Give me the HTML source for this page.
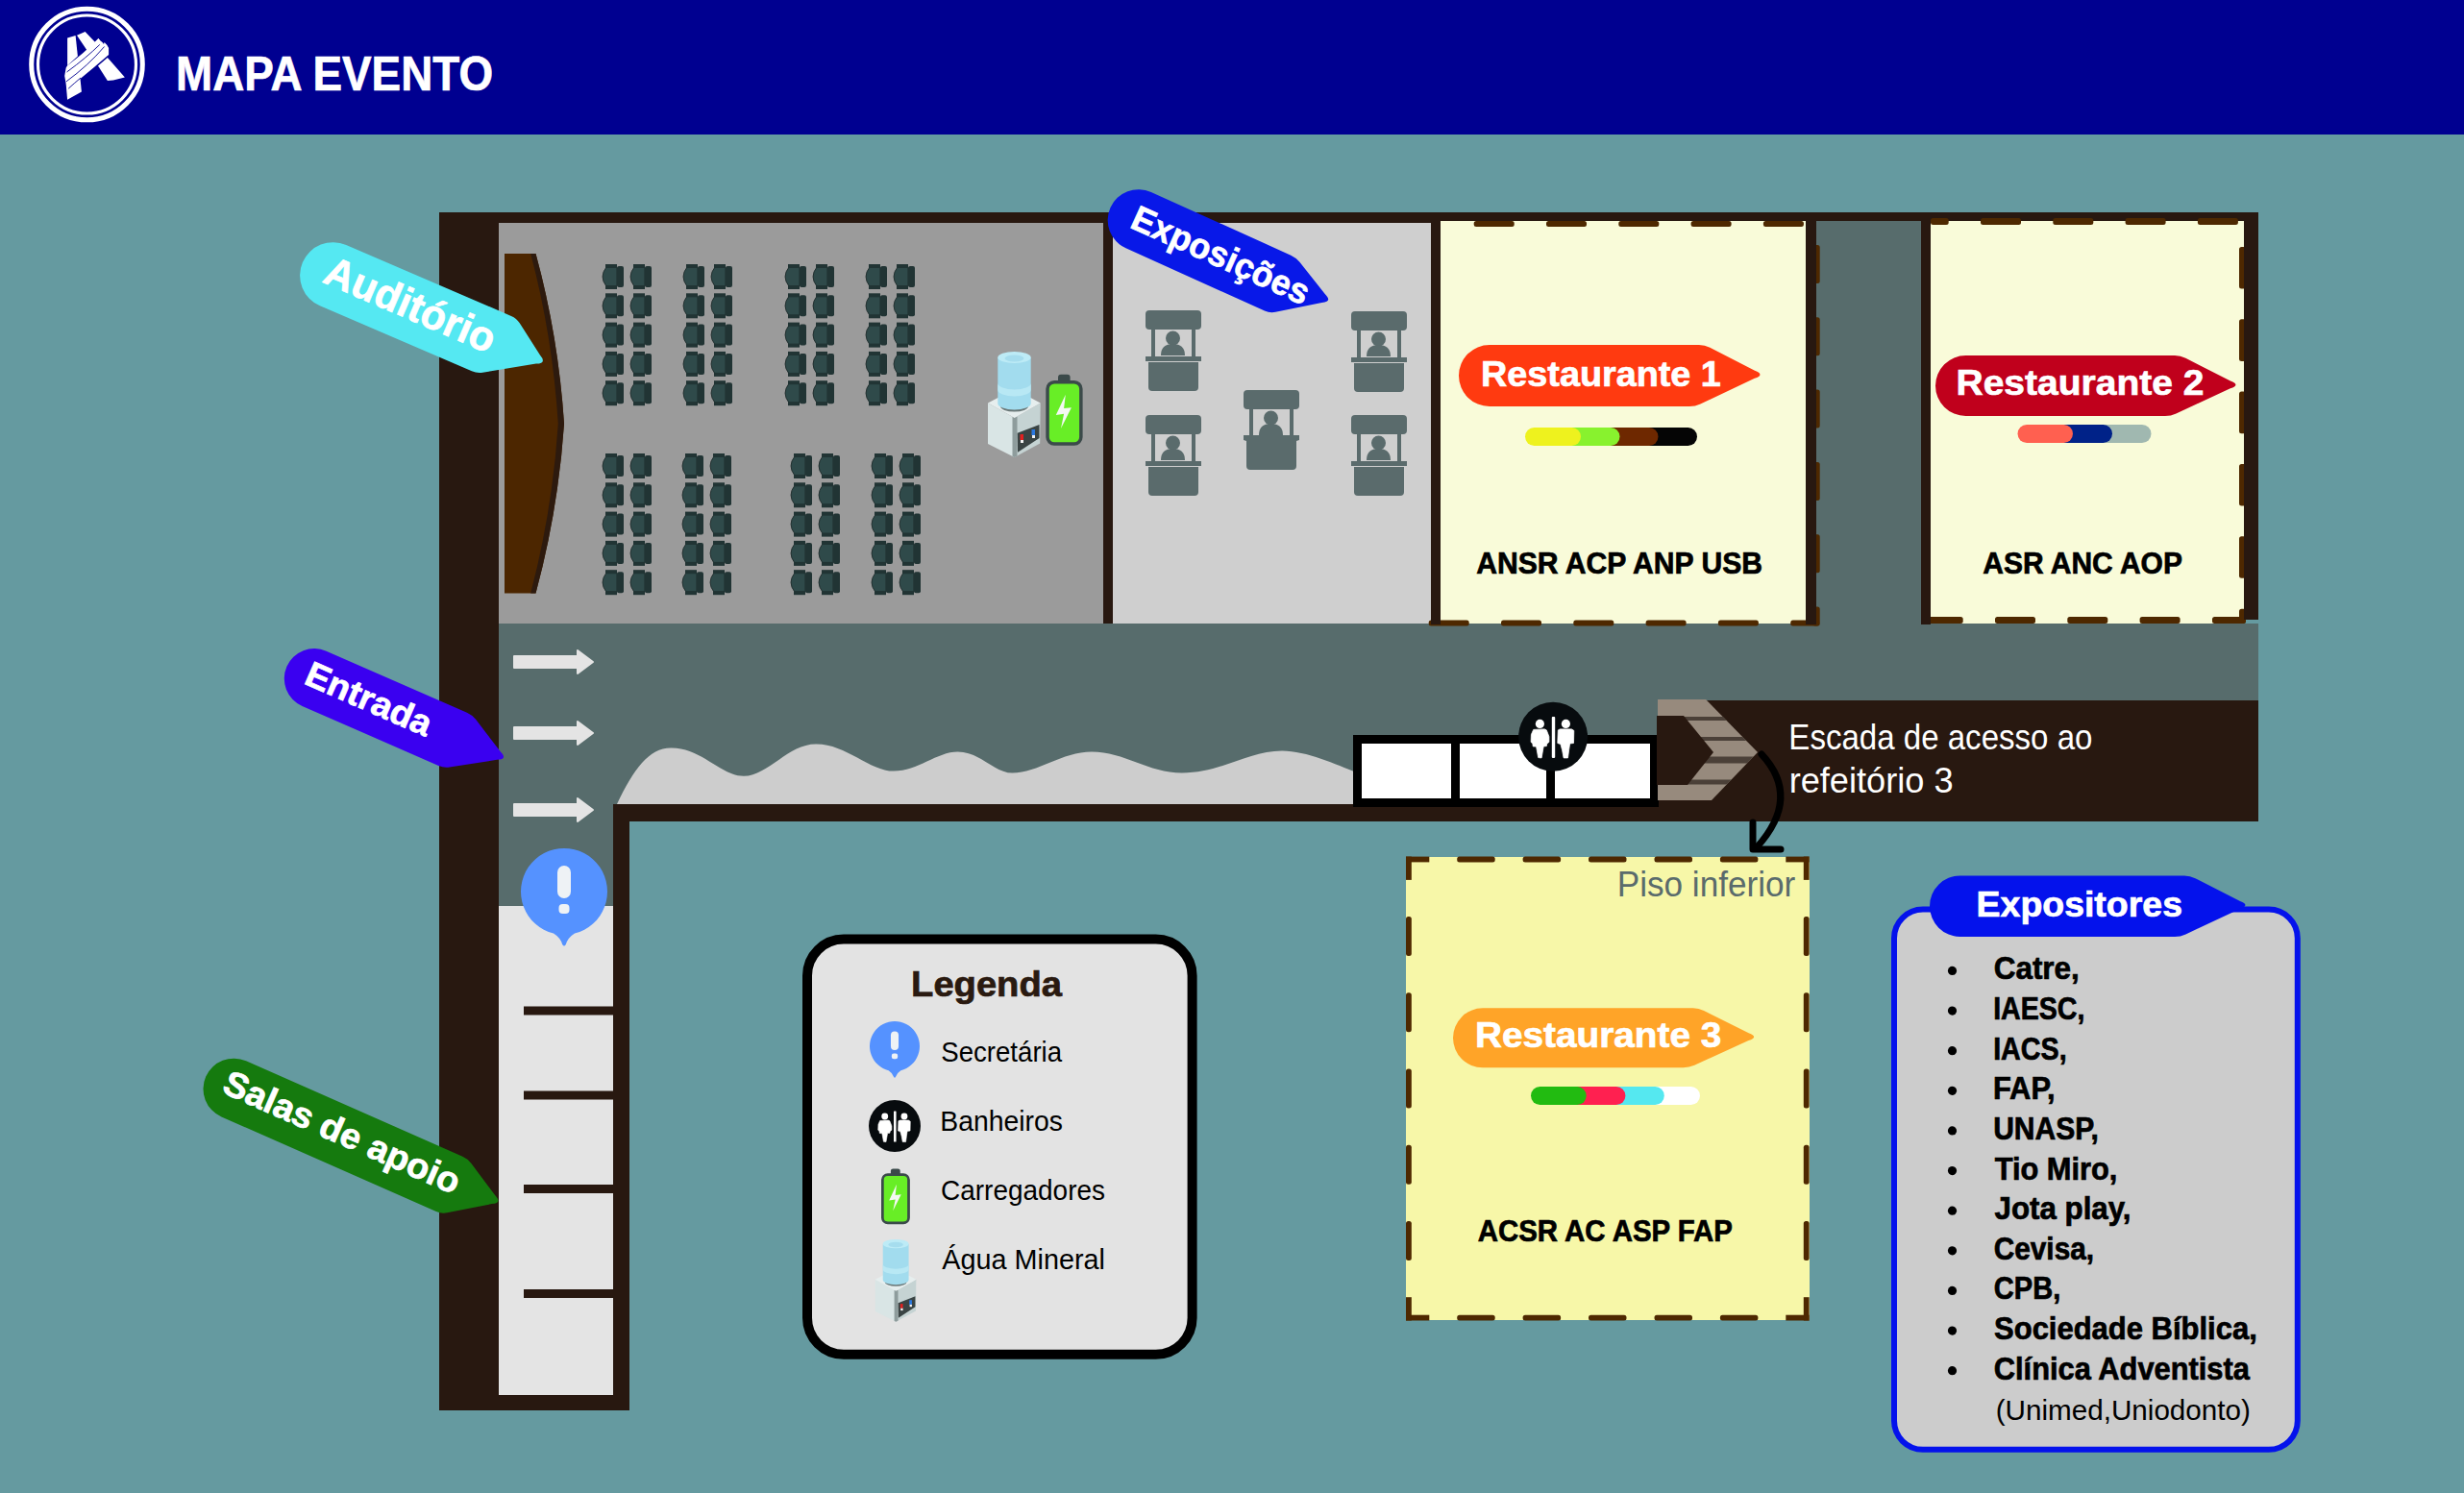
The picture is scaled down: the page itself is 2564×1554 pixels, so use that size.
<!DOCTYPE html>
<html><head><meta charset="utf-8"><title>Mapa Evento</title>
<style>html,body{margin:0;padding:0;background:#659AA0;} svg{display:block;}</style>
</head><body>
<svg width="2564" height="1554" viewBox="0 0 2564 1554">
<defs><clipPath id="stairclip"><path d="M1725,728 L1775,728 L1829,783 L1781,833 L1725,833 Z"/></clipPath></defs>
<rect x="0" y="0" width="2564" height="1554" fill="#659AA0" />
<rect x="0" y="0" width="2564" height="140" fill="#000090" />
<rect x="457" y="221" width="1893" height="11" fill="#281810" />
<rect x="457" y="221" width="62" height="1247" fill="#281810" />
<rect x="457" y="1452" width="198" height="16" fill="#281810" />
<rect x="638" y="837" width="17" height="631" fill="#281810" />
<rect x="2335" y="221" width="15" height="424" fill="#281810" />
<rect x="519" y="232" width="629" height="418" fill="#9B9B9B" />
<rect x="1148" y="221" width="10" height="429" fill="#281810" />
<rect x="1158" y="232" width="331" height="418" fill="#CFCFCF" />
<rect x="1489" y="221" width="10" height="429" fill="#281810" />
<rect x="1499" y="230" width="380" height="419" fill="#F9FBD9" />
<rect x="1879" y="221" width="11" height="429" fill="#281810" />
<rect x="1890" y="230" width="109" height="420" fill="#576C6C" />
<rect x="1999" y="221" width="10" height="429" fill="#281810" />
<rect x="2009" y="230" width="326" height="419" fill="#F9FBD9" />
<rect x="519" y="649" width="1831" height="188" fill="#576C6C" />
<rect x="519" y="837" width="119" height="106" fill="#576C6C" />
<rect x="519" y="943" width="119" height="509" fill="#E4E4E4" />
<rect x="638" y="837" width="1090" height="18" fill="#281810" />
<rect x="1725" y="729" width="625" height="126" fill="#281810" />
<rect x="1533.7" y="230" width="42" height="6" rx="2.5" fill="#4E2800"/>
<rect x="1609.0" y="230" width="42" height="6" rx="2.5" fill="#4E2800"/>
<rect x="1684.3" y="230" width="42" height="6" rx="2.5" fill="#4E2800"/>
<rect x="1759.6" y="230" width="42" height="6" rx="2.5" fill="#4E2800"/>
<rect x="1834.9" y="230" width="42" height="6" rx="2.5" fill="#4E2800"/>
<rect x="1486.7" y="645.5" width="42" height="6.0" rx="2.5" fill="#4E2800"/>
<rect x="1562.0" y="645.5" width="42" height="6.0" rx="2.5" fill="#4E2800"/>
<rect x="1637.3" y="645.5" width="42" height="6.0" rx="2.5" fill="#4E2800"/>
<rect x="1712.6" y="645.5" width="42" height="6.0" rx="2.5" fill="#4E2800"/>
<rect x="1787.9" y="645.5" width="42" height="6.0" rx="2.5" fill="#4E2800"/>
<rect x="1863.2" y="645.5" width="30" height="6.0" rx="2.5" fill="#4E2800"/>
<rect x="1886" y="255.0" width="7.7000000000000455" height="40" rx="2.5" fill="#4E2800"/>
<rect x="1886" y="330.3" width="7.7000000000000455" height="40" rx="2.5" fill="#4E2800"/>
<rect x="1886" y="405.6" width="7.7000000000000455" height="40" rx="2.5" fill="#4E2800"/>
<rect x="1886" y="480.9" width="7.7000000000000455" height="40" rx="2.5" fill="#4E2800"/>
<rect x="1886" y="556.2" width="7.7000000000000455" height="40" rx="2.5" fill="#4E2800"/>
<rect x="1886" y="631.5" width="7.7000000000000455" height="20" rx="2.5" fill="#4E2800"/>
<rect x="2061.0" y="227" width="42" height="7" rx="2.5" fill="#4E2800"/>
<rect x="2136.3" y="227" width="42" height="7" rx="2.5" fill="#4E2800"/>
<rect x="2211.6" y="227" width="42" height="7" rx="2.5" fill="#4E2800"/>
<rect x="2286.9" y="227" width="42" height="7" rx="2.5" fill="#4E2800"/>
<rect x="2009.0" y="227" width="18.7" height="7" rx="2.5" fill="#4E2800"/>
<rect x="2330" y="257.0" width="7" height="43.6" rx="2.5" fill="#4E2800"/>
<rect x="2330" y="332.3" width="7" height="43.6" rx="2.5" fill="#4E2800"/>
<rect x="2330" y="407.6" width="7" height="43.6" rx="2.5" fill="#4E2800"/>
<rect x="2330" y="482.9" width="7" height="43.6" rx="2.5" fill="#4E2800"/>
<rect x="2330" y="558.2" width="7" height="43.6" rx="2.5" fill="#4E2800"/>
<rect x="2330" y="633.8" width="7" height="15" rx="2.5" fill="#4E2800"/>
<rect x="2000.7" y="642" width="42" height="7" rx="2.5" fill="#4E2800"/>
<rect x="2076.0" y="642" width="42" height="7" rx="2.5" fill="#4E2800"/>
<rect x="2151.3" y="642" width="42" height="7" rx="2.5" fill="#4E2800"/>
<rect x="2226.6" y="642" width="42" height="7" rx="2.5" fill="#4E2800"/>
<rect x="2302.0" y="642" width="35" height="7" rx="2.5" fill="#4E2800"/>
<rect x="1489" y="221" width="10" height="429" fill="#281810" />
<rect x="1879" y="221" width="11" height="429" fill="#281810" />
<rect x="1999" y="221" width="10" height="429" fill="#281810" />
<rect x="2335" y="221" width="15" height="424" fill="#281810" />
<path d="M525,264 L557.5,264 Q581,350 587,441 Q581,530 557.5,617.6 L525,617.6 Z" fill="#4C2600"/>
<path d="M552.2,264 L557.5,264 Q581,350 587,441 Q581,530 557.5,617.6 L552.2,617.6 Q575,530 580.8,441 Q575,350 552.2,264 Z" fill="#2D1A0E"/>
<path d="M631,278.0 L642,278.0 L642,298.0 L631,298.0 Q627,293.0 627,288.0 Q627,283.0 631,278.0 Z" fill="#2F4A4A" stroke="#1a2626" stroke-width="0.8"/>
<rect x="630" y="275.0" width="12" height="4" fill="#213434" />
<rect x="630" y="297.0" width="12" height="4" fill="#213434" />
<rect x="642" y="277.0" width="7" height="22" rx="2" fill="#213434"/>
<path d="M660,278.0 L671,278.0 L671,298.0 L660,298.0 Q656,293.0 656,288.0 Q656,283.0 660,278.0 Z" fill="#2F4A4A" stroke="#1a2626" stroke-width="0.8"/>
<rect x="659" y="275.0" width="12" height="4" fill="#213434" />
<rect x="659" y="297.0" width="12" height="4" fill="#213434" />
<rect x="671" y="277.0" width="7" height="22" rx="2" fill="#213434"/>
<path d="M631,308.3 L642,308.3 L642,328.3 L631,328.3 Q627,323.3 627,318.3 Q627,313.3 631,308.3 Z" fill="#2F4A4A" stroke="#1a2626" stroke-width="0.8"/>
<rect x="630" y="305.3" width="12" height="4" fill="#213434" />
<rect x="630" y="327.3" width="12" height="4" fill="#213434" />
<rect x="642" y="307.3" width="7" height="22" rx="2" fill="#213434"/>
<path d="M660,308.3 L671,308.3 L671,328.3 L660,328.3 Q656,323.3 656,318.3 Q656,313.3 660,308.3 Z" fill="#2F4A4A" stroke="#1a2626" stroke-width="0.8"/>
<rect x="659" y="305.3" width="12" height="4" fill="#213434" />
<rect x="659" y="327.3" width="12" height="4" fill="#213434" />
<rect x="671" y="307.3" width="7" height="22" rx="2" fill="#213434"/>
<path d="M631,338.6 L642,338.6 L642,358.6 L631,358.6 Q627,353.6 627,348.6 Q627,343.6 631,338.6 Z" fill="#2F4A4A" stroke="#1a2626" stroke-width="0.8"/>
<rect x="630" y="335.6" width="12" height="4" fill="#213434" />
<rect x="630" y="357.6" width="12" height="4" fill="#213434" />
<rect x="642" y="337.6" width="7" height="22" rx="2" fill="#213434"/>
<path d="M660,338.6 L671,338.6 L671,358.6 L660,358.6 Q656,353.6 656,348.6 Q656,343.6 660,338.6 Z" fill="#2F4A4A" stroke="#1a2626" stroke-width="0.8"/>
<rect x="659" y="335.6" width="12" height="4" fill="#213434" />
<rect x="659" y="357.6" width="12" height="4" fill="#213434" />
<rect x="671" y="337.6" width="7" height="22" rx="2" fill="#213434"/>
<path d="M631,368.9 L642,368.9 L642,388.9 L631,388.9 Q627,383.9 627,378.9 Q627,373.9 631,368.9 Z" fill="#2F4A4A" stroke="#1a2626" stroke-width="0.8"/>
<rect x="630" y="365.9" width="12" height="4" fill="#213434" />
<rect x="630" y="387.9" width="12" height="4" fill="#213434" />
<rect x="642" y="367.9" width="7" height="22" rx="2" fill="#213434"/>
<path d="M660,368.9 L671,368.9 L671,388.9 L660,388.9 Q656,383.9 656,378.9 Q656,373.9 660,368.9 Z" fill="#2F4A4A" stroke="#1a2626" stroke-width="0.8"/>
<rect x="659" y="365.9" width="12" height="4" fill="#213434" />
<rect x="659" y="387.9" width="12" height="4" fill="#213434" />
<rect x="671" y="367.9" width="7" height="22" rx="2" fill="#213434"/>
<path d="M631,399.2 L642,399.2 L642,419.2 L631,419.2 Q627,414.2 627,409.2 Q627,404.2 631,399.2 Z" fill="#2F4A4A" stroke="#1a2626" stroke-width="0.8"/>
<rect x="630" y="396.2" width="12" height="4" fill="#213434" />
<rect x="630" y="418.2" width="12" height="4" fill="#213434" />
<rect x="642" y="398.2" width="7" height="22" rx="2" fill="#213434"/>
<path d="M660,399.2 L671,399.2 L671,419.2 L660,419.2 Q656,414.2 656,409.2 Q656,404.2 660,399.2 Z" fill="#2F4A4A" stroke="#1a2626" stroke-width="0.8"/>
<rect x="659" y="396.2" width="12" height="4" fill="#213434" />
<rect x="659" y="418.2" width="12" height="4" fill="#213434" />
<rect x="671" y="398.2" width="7" height="22" rx="2" fill="#213434"/>
<path d="M715,278.0 L726,278.0 L726,298.0 L715,298.0 Q711,293.0 711,288.0 Q711,283.0 715,278.0 Z" fill="#2F4A4A" stroke="#1a2626" stroke-width="0.8"/>
<rect x="714" y="275.0" width="12" height="4" fill="#213434" />
<rect x="714" y="297.0" width="12" height="4" fill="#213434" />
<rect x="726" y="277.0" width="7" height="22" rx="2" fill="#213434"/>
<path d="M744,278.0 L755,278.0 L755,298.0 L744,298.0 Q740,293.0 740,288.0 Q740,283.0 744,278.0 Z" fill="#2F4A4A" stroke="#1a2626" stroke-width="0.8"/>
<rect x="743" y="275.0" width="12" height="4" fill="#213434" />
<rect x="743" y="297.0" width="12" height="4" fill="#213434" />
<rect x="755" y="277.0" width="7" height="22" rx="2" fill="#213434"/>
<path d="M715,308.3 L726,308.3 L726,328.3 L715,328.3 Q711,323.3 711,318.3 Q711,313.3 715,308.3 Z" fill="#2F4A4A" stroke="#1a2626" stroke-width="0.8"/>
<rect x="714" y="305.3" width="12" height="4" fill="#213434" />
<rect x="714" y="327.3" width="12" height="4" fill="#213434" />
<rect x="726" y="307.3" width="7" height="22" rx="2" fill="#213434"/>
<path d="M744,308.3 L755,308.3 L755,328.3 L744,328.3 Q740,323.3 740,318.3 Q740,313.3 744,308.3 Z" fill="#2F4A4A" stroke="#1a2626" stroke-width="0.8"/>
<rect x="743" y="305.3" width="12" height="4" fill="#213434" />
<rect x="743" y="327.3" width="12" height="4" fill="#213434" />
<rect x="755" y="307.3" width="7" height="22" rx="2" fill="#213434"/>
<path d="M715,338.6 L726,338.6 L726,358.6 L715,358.6 Q711,353.6 711,348.6 Q711,343.6 715,338.6 Z" fill="#2F4A4A" stroke="#1a2626" stroke-width="0.8"/>
<rect x="714" y="335.6" width="12" height="4" fill="#213434" />
<rect x="714" y="357.6" width="12" height="4" fill="#213434" />
<rect x="726" y="337.6" width="7" height="22" rx="2" fill="#213434"/>
<path d="M744,338.6 L755,338.6 L755,358.6 L744,358.6 Q740,353.6 740,348.6 Q740,343.6 744,338.6 Z" fill="#2F4A4A" stroke="#1a2626" stroke-width="0.8"/>
<rect x="743" y="335.6" width="12" height="4" fill="#213434" />
<rect x="743" y="357.6" width="12" height="4" fill="#213434" />
<rect x="755" y="337.6" width="7" height="22" rx="2" fill="#213434"/>
<path d="M715,368.9 L726,368.9 L726,388.9 L715,388.9 Q711,383.9 711,378.9 Q711,373.9 715,368.9 Z" fill="#2F4A4A" stroke="#1a2626" stroke-width="0.8"/>
<rect x="714" y="365.9" width="12" height="4" fill="#213434" />
<rect x="714" y="387.9" width="12" height="4" fill="#213434" />
<rect x="726" y="367.9" width="7" height="22" rx="2" fill="#213434"/>
<path d="M744,368.9 L755,368.9 L755,388.9 L744,388.9 Q740,383.9 740,378.9 Q740,373.9 744,368.9 Z" fill="#2F4A4A" stroke="#1a2626" stroke-width="0.8"/>
<rect x="743" y="365.9" width="12" height="4" fill="#213434" />
<rect x="743" y="387.9" width="12" height="4" fill="#213434" />
<rect x="755" y="367.9" width="7" height="22" rx="2" fill="#213434"/>
<path d="M715,399.2 L726,399.2 L726,419.2 L715,419.2 Q711,414.2 711,409.2 Q711,404.2 715,399.2 Z" fill="#2F4A4A" stroke="#1a2626" stroke-width="0.8"/>
<rect x="714" y="396.2" width="12" height="4" fill="#213434" />
<rect x="714" y="418.2" width="12" height="4" fill="#213434" />
<rect x="726" y="398.2" width="7" height="22" rx="2" fill="#213434"/>
<path d="M744,399.2 L755,399.2 L755,419.2 L744,419.2 Q740,414.2 740,409.2 Q740,404.2 744,399.2 Z" fill="#2F4A4A" stroke="#1a2626" stroke-width="0.8"/>
<rect x="743" y="396.2" width="12" height="4" fill="#213434" />
<rect x="743" y="418.2" width="12" height="4" fill="#213434" />
<rect x="755" y="398.2" width="7" height="22" rx="2" fill="#213434"/>
<path d="M821,278.0 L832,278.0 L832,298.0 L821,298.0 Q817,293.0 817,288.0 Q817,283.0 821,278.0 Z" fill="#2F4A4A" stroke="#1a2626" stroke-width="0.8"/>
<rect x="820" y="275.0" width="12" height="4" fill="#213434" />
<rect x="820" y="297.0" width="12" height="4" fill="#213434" />
<rect x="832" y="277.0" width="7" height="22" rx="2" fill="#213434"/>
<path d="M850,278.0 L861,278.0 L861,298.0 L850,298.0 Q846,293.0 846,288.0 Q846,283.0 850,278.0 Z" fill="#2F4A4A" stroke="#1a2626" stroke-width="0.8"/>
<rect x="849" y="275.0" width="12" height="4" fill="#213434" />
<rect x="849" y="297.0" width="12" height="4" fill="#213434" />
<rect x="861" y="277.0" width="7" height="22" rx="2" fill="#213434"/>
<path d="M821,308.3 L832,308.3 L832,328.3 L821,328.3 Q817,323.3 817,318.3 Q817,313.3 821,308.3 Z" fill="#2F4A4A" stroke="#1a2626" stroke-width="0.8"/>
<rect x="820" y="305.3" width="12" height="4" fill="#213434" />
<rect x="820" y="327.3" width="12" height="4" fill="#213434" />
<rect x="832" y="307.3" width="7" height="22" rx="2" fill="#213434"/>
<path d="M850,308.3 L861,308.3 L861,328.3 L850,328.3 Q846,323.3 846,318.3 Q846,313.3 850,308.3 Z" fill="#2F4A4A" stroke="#1a2626" stroke-width="0.8"/>
<rect x="849" y="305.3" width="12" height="4" fill="#213434" />
<rect x="849" y="327.3" width="12" height="4" fill="#213434" />
<rect x="861" y="307.3" width="7" height="22" rx="2" fill="#213434"/>
<path d="M821,338.6 L832,338.6 L832,358.6 L821,358.6 Q817,353.6 817,348.6 Q817,343.6 821,338.6 Z" fill="#2F4A4A" stroke="#1a2626" stroke-width="0.8"/>
<rect x="820" y="335.6" width="12" height="4" fill="#213434" />
<rect x="820" y="357.6" width="12" height="4" fill="#213434" />
<rect x="832" y="337.6" width="7" height="22" rx="2" fill="#213434"/>
<path d="M850,338.6 L861,338.6 L861,358.6 L850,358.6 Q846,353.6 846,348.6 Q846,343.6 850,338.6 Z" fill="#2F4A4A" stroke="#1a2626" stroke-width="0.8"/>
<rect x="849" y="335.6" width="12" height="4" fill="#213434" />
<rect x="849" y="357.6" width="12" height="4" fill="#213434" />
<rect x="861" y="337.6" width="7" height="22" rx="2" fill="#213434"/>
<path d="M821,368.9 L832,368.9 L832,388.9 L821,388.9 Q817,383.9 817,378.9 Q817,373.9 821,368.9 Z" fill="#2F4A4A" stroke="#1a2626" stroke-width="0.8"/>
<rect x="820" y="365.9" width="12" height="4" fill="#213434" />
<rect x="820" y="387.9" width="12" height="4" fill="#213434" />
<rect x="832" y="367.9" width="7" height="22" rx="2" fill="#213434"/>
<path d="M850,368.9 L861,368.9 L861,388.9 L850,388.9 Q846,383.9 846,378.9 Q846,373.9 850,368.9 Z" fill="#2F4A4A" stroke="#1a2626" stroke-width="0.8"/>
<rect x="849" y="365.9" width="12" height="4" fill="#213434" />
<rect x="849" y="387.9" width="12" height="4" fill="#213434" />
<rect x="861" y="367.9" width="7" height="22" rx="2" fill="#213434"/>
<path d="M821,399.2 L832,399.2 L832,419.2 L821,419.2 Q817,414.2 817,409.2 Q817,404.2 821,399.2 Z" fill="#2F4A4A" stroke="#1a2626" stroke-width="0.8"/>
<rect x="820" y="396.2" width="12" height="4" fill="#213434" />
<rect x="820" y="418.2" width="12" height="4" fill="#213434" />
<rect x="832" y="398.2" width="7" height="22" rx="2" fill="#213434"/>
<path d="M850,399.2 L861,399.2 L861,419.2 L850,419.2 Q846,414.2 846,409.2 Q846,404.2 850,399.2 Z" fill="#2F4A4A" stroke="#1a2626" stroke-width="0.8"/>
<rect x="849" y="396.2" width="12" height="4" fill="#213434" />
<rect x="849" y="418.2" width="12" height="4" fill="#213434" />
<rect x="861" y="398.2" width="7" height="22" rx="2" fill="#213434"/>
<path d="M905,278.0 L916,278.0 L916,298.0 L905,298.0 Q901,293.0 901,288.0 Q901,283.0 905,278.0 Z" fill="#2F4A4A" stroke="#1a2626" stroke-width="0.8"/>
<rect x="904" y="275.0" width="12" height="4" fill="#213434" />
<rect x="904" y="297.0" width="12" height="4" fill="#213434" />
<rect x="916" y="277.0" width="7" height="22" rx="2" fill="#213434"/>
<path d="M934,278.0 L945,278.0 L945,298.0 L934,298.0 Q930,293.0 930,288.0 Q930,283.0 934,278.0 Z" fill="#2F4A4A" stroke="#1a2626" stroke-width="0.8"/>
<rect x="933" y="275.0" width="12" height="4" fill="#213434" />
<rect x="933" y="297.0" width="12" height="4" fill="#213434" />
<rect x="945" y="277.0" width="7" height="22" rx="2" fill="#213434"/>
<path d="M905,308.3 L916,308.3 L916,328.3 L905,328.3 Q901,323.3 901,318.3 Q901,313.3 905,308.3 Z" fill="#2F4A4A" stroke="#1a2626" stroke-width="0.8"/>
<rect x="904" y="305.3" width="12" height="4" fill="#213434" />
<rect x="904" y="327.3" width="12" height="4" fill="#213434" />
<rect x="916" y="307.3" width="7" height="22" rx="2" fill="#213434"/>
<path d="M934,308.3 L945,308.3 L945,328.3 L934,328.3 Q930,323.3 930,318.3 Q930,313.3 934,308.3 Z" fill="#2F4A4A" stroke="#1a2626" stroke-width="0.8"/>
<rect x="933" y="305.3" width="12" height="4" fill="#213434" />
<rect x="933" y="327.3" width="12" height="4" fill="#213434" />
<rect x="945" y="307.3" width="7" height="22" rx="2" fill="#213434"/>
<path d="M905,338.6 L916,338.6 L916,358.6 L905,358.6 Q901,353.6 901,348.6 Q901,343.6 905,338.6 Z" fill="#2F4A4A" stroke="#1a2626" stroke-width="0.8"/>
<rect x="904" y="335.6" width="12" height="4" fill="#213434" />
<rect x="904" y="357.6" width="12" height="4" fill="#213434" />
<rect x="916" y="337.6" width="7" height="22" rx="2" fill="#213434"/>
<path d="M934,338.6 L945,338.6 L945,358.6 L934,358.6 Q930,353.6 930,348.6 Q930,343.6 934,338.6 Z" fill="#2F4A4A" stroke="#1a2626" stroke-width="0.8"/>
<rect x="933" y="335.6" width="12" height="4" fill="#213434" />
<rect x="933" y="357.6" width="12" height="4" fill="#213434" />
<rect x="945" y="337.6" width="7" height="22" rx="2" fill="#213434"/>
<path d="M905,368.9 L916,368.9 L916,388.9 L905,388.9 Q901,383.9 901,378.9 Q901,373.9 905,368.9 Z" fill="#2F4A4A" stroke="#1a2626" stroke-width="0.8"/>
<rect x="904" y="365.9" width="12" height="4" fill="#213434" />
<rect x="904" y="387.9" width="12" height="4" fill="#213434" />
<rect x="916" y="367.9" width="7" height="22" rx="2" fill="#213434"/>
<path d="M934,368.9 L945,368.9 L945,388.9 L934,388.9 Q930,383.9 930,378.9 Q930,373.9 934,368.9 Z" fill="#2F4A4A" stroke="#1a2626" stroke-width="0.8"/>
<rect x="933" y="365.9" width="12" height="4" fill="#213434" />
<rect x="933" y="387.9" width="12" height="4" fill="#213434" />
<rect x="945" y="367.9" width="7" height="22" rx="2" fill="#213434"/>
<path d="M905,399.2 L916,399.2 L916,419.2 L905,419.2 Q901,414.2 901,409.2 Q901,404.2 905,399.2 Z" fill="#2F4A4A" stroke="#1a2626" stroke-width="0.8"/>
<rect x="904" y="396.2" width="12" height="4" fill="#213434" />
<rect x="904" y="418.2" width="12" height="4" fill="#213434" />
<rect x="916" y="398.2" width="7" height="22" rx="2" fill="#213434"/>
<path d="M934,399.2 L945,399.2 L945,419.2 L934,419.2 Q930,414.2 930,409.2 Q930,404.2 934,399.2 Z" fill="#2F4A4A" stroke="#1a2626" stroke-width="0.8"/>
<rect x="933" y="396.2" width="12" height="4" fill="#213434" />
<rect x="933" y="418.2" width="12" height="4" fill="#213434" />
<rect x="945" y="398.2" width="7" height="22" rx="2" fill="#213434"/>
<path d="M631,475.0 L642,475.0 L642,495.0 L631,495.0 Q627,490.0 627,485.0 Q627,480.0 631,475.0 Z" fill="#2F4A4A" stroke="#1a2626" stroke-width="0.8"/>
<rect x="630" y="472.0" width="12" height="4" fill="#213434" />
<rect x="630" y="494.0" width="12" height="4" fill="#213434" />
<rect x="642" y="474.0" width="7" height="22" rx="2" fill="#213434"/>
<path d="M660,475.0 L671,475.0 L671,495.0 L660,495.0 Q656,490.0 656,485.0 Q656,480.0 660,475.0 Z" fill="#2F4A4A" stroke="#1a2626" stroke-width="0.8"/>
<rect x="659" y="472.0" width="12" height="4" fill="#213434" />
<rect x="659" y="494.0" width="12" height="4" fill="#213434" />
<rect x="671" y="474.0" width="7" height="22" rx="2" fill="#213434"/>
<path d="M631,505.3 L642,505.3 L642,525.3 L631,525.3 Q627,520.3 627,515.3 Q627,510.3 631,505.3 Z" fill="#2F4A4A" stroke="#1a2626" stroke-width="0.8"/>
<rect x="630" y="502.3" width="12" height="4" fill="#213434" />
<rect x="630" y="524.3" width="12" height="4" fill="#213434" />
<rect x="642" y="504.3" width="7" height="22" rx="2" fill="#213434"/>
<path d="M660,505.3 L671,505.3 L671,525.3 L660,525.3 Q656,520.3 656,515.3 Q656,510.3 660,505.3 Z" fill="#2F4A4A" stroke="#1a2626" stroke-width="0.8"/>
<rect x="659" y="502.3" width="12" height="4" fill="#213434" />
<rect x="659" y="524.3" width="12" height="4" fill="#213434" />
<rect x="671" y="504.3" width="7" height="22" rx="2" fill="#213434"/>
<path d="M631,535.6 L642,535.6 L642,555.6 L631,555.6 Q627,550.6 627,545.6 Q627,540.6 631,535.6 Z" fill="#2F4A4A" stroke="#1a2626" stroke-width="0.8"/>
<rect x="630" y="532.6" width="12" height="4" fill="#213434" />
<rect x="630" y="554.6" width="12" height="4" fill="#213434" />
<rect x="642" y="534.6" width="7" height="22" rx="2" fill="#213434"/>
<path d="M660,535.6 L671,535.6 L671,555.6 L660,555.6 Q656,550.6 656,545.6 Q656,540.6 660,535.6 Z" fill="#2F4A4A" stroke="#1a2626" stroke-width="0.8"/>
<rect x="659" y="532.6" width="12" height="4" fill="#213434" />
<rect x="659" y="554.6" width="12" height="4" fill="#213434" />
<rect x="671" y="534.6" width="7" height="22" rx="2" fill="#213434"/>
<path d="M631,565.9 L642,565.9 L642,585.9 L631,585.9 Q627,580.9 627,575.9 Q627,570.9 631,565.9 Z" fill="#2F4A4A" stroke="#1a2626" stroke-width="0.8"/>
<rect x="630" y="562.9" width="12" height="4" fill="#213434" />
<rect x="630" y="584.9" width="12" height="4" fill="#213434" />
<rect x="642" y="564.9" width="7" height="22" rx="2" fill="#213434"/>
<path d="M660,565.9 L671,565.9 L671,585.9 L660,585.9 Q656,580.9 656,575.9 Q656,570.9 660,565.9 Z" fill="#2F4A4A" stroke="#1a2626" stroke-width="0.8"/>
<rect x="659" y="562.9" width="12" height="4" fill="#213434" />
<rect x="659" y="584.9" width="12" height="4" fill="#213434" />
<rect x="671" y="564.9" width="7" height="22" rx="2" fill="#213434"/>
<path d="M631,596.2 L642,596.2 L642,616.2 L631,616.2 Q627,611.2 627,606.2 Q627,601.2 631,596.2 Z" fill="#2F4A4A" stroke="#1a2626" stroke-width="0.8"/>
<rect x="630" y="593.2" width="12" height="4" fill="#213434" />
<rect x="630" y="615.2" width="12" height="4" fill="#213434" />
<rect x="642" y="595.2" width="7" height="22" rx="2" fill="#213434"/>
<path d="M660,596.2 L671,596.2 L671,616.2 L660,616.2 Q656,611.2 656,606.2 Q656,601.2 660,596.2 Z" fill="#2F4A4A" stroke="#1a2626" stroke-width="0.8"/>
<rect x="659" y="593.2" width="12" height="4" fill="#213434" />
<rect x="659" y="615.2" width="12" height="4" fill="#213434" />
<rect x="671" y="595.2" width="7" height="22" rx="2" fill="#213434"/>
<path d="M714,475.0 L725,475.0 L725,495.0 L714,495.0 Q710,490.0 710,485.0 Q710,480.0 714,475.0 Z" fill="#2F4A4A" stroke="#1a2626" stroke-width="0.8"/>
<rect x="713" y="472.0" width="12" height="4" fill="#213434" />
<rect x="713" y="494.0" width="12" height="4" fill="#213434" />
<rect x="725" y="474.0" width="7" height="22" rx="2" fill="#213434"/>
<path d="M743,475.0 L754,475.0 L754,495.0 L743,495.0 Q739,490.0 739,485.0 Q739,480.0 743,475.0 Z" fill="#2F4A4A" stroke="#1a2626" stroke-width="0.8"/>
<rect x="742" y="472.0" width="12" height="4" fill="#213434" />
<rect x="742" y="494.0" width="12" height="4" fill="#213434" />
<rect x="754" y="474.0" width="7" height="22" rx="2" fill="#213434"/>
<path d="M714,505.3 L725,505.3 L725,525.3 L714,525.3 Q710,520.3 710,515.3 Q710,510.3 714,505.3 Z" fill="#2F4A4A" stroke="#1a2626" stroke-width="0.8"/>
<rect x="713" y="502.3" width="12" height="4" fill="#213434" />
<rect x="713" y="524.3" width="12" height="4" fill="#213434" />
<rect x="725" y="504.3" width="7" height="22" rx="2" fill="#213434"/>
<path d="M743,505.3 L754,505.3 L754,525.3 L743,525.3 Q739,520.3 739,515.3 Q739,510.3 743,505.3 Z" fill="#2F4A4A" stroke="#1a2626" stroke-width="0.8"/>
<rect x="742" y="502.3" width="12" height="4" fill="#213434" />
<rect x="742" y="524.3" width="12" height="4" fill="#213434" />
<rect x="754" y="504.3" width="7" height="22" rx="2" fill="#213434"/>
<path d="M714,535.6 L725,535.6 L725,555.6 L714,555.6 Q710,550.6 710,545.6 Q710,540.6 714,535.6 Z" fill="#2F4A4A" stroke="#1a2626" stroke-width="0.8"/>
<rect x="713" y="532.6" width="12" height="4" fill="#213434" />
<rect x="713" y="554.6" width="12" height="4" fill="#213434" />
<rect x="725" y="534.6" width="7" height="22" rx="2" fill="#213434"/>
<path d="M743,535.6 L754,535.6 L754,555.6 L743,555.6 Q739,550.6 739,545.6 Q739,540.6 743,535.6 Z" fill="#2F4A4A" stroke="#1a2626" stroke-width="0.8"/>
<rect x="742" y="532.6" width="12" height="4" fill="#213434" />
<rect x="742" y="554.6" width="12" height="4" fill="#213434" />
<rect x="754" y="534.6" width="7" height="22" rx="2" fill="#213434"/>
<path d="M714,565.9 L725,565.9 L725,585.9 L714,585.9 Q710,580.9 710,575.9 Q710,570.9 714,565.9 Z" fill="#2F4A4A" stroke="#1a2626" stroke-width="0.8"/>
<rect x="713" y="562.9" width="12" height="4" fill="#213434" />
<rect x="713" y="584.9" width="12" height="4" fill="#213434" />
<rect x="725" y="564.9" width="7" height="22" rx="2" fill="#213434"/>
<path d="M743,565.9 L754,565.9 L754,585.9 L743,585.9 Q739,580.9 739,575.9 Q739,570.9 743,565.9 Z" fill="#2F4A4A" stroke="#1a2626" stroke-width="0.8"/>
<rect x="742" y="562.9" width="12" height="4" fill="#213434" />
<rect x="742" y="584.9" width="12" height="4" fill="#213434" />
<rect x="754" y="564.9" width="7" height="22" rx="2" fill="#213434"/>
<path d="M714,596.2 L725,596.2 L725,616.2 L714,616.2 Q710,611.2 710,606.2 Q710,601.2 714,596.2 Z" fill="#2F4A4A" stroke="#1a2626" stroke-width="0.8"/>
<rect x="713" y="593.2" width="12" height="4" fill="#213434" />
<rect x="713" y="615.2" width="12" height="4" fill="#213434" />
<rect x="725" y="595.2" width="7" height="22" rx="2" fill="#213434"/>
<path d="M743,596.2 L754,596.2 L754,616.2 L743,616.2 Q739,611.2 739,606.2 Q739,601.2 743,596.2 Z" fill="#2F4A4A" stroke="#1a2626" stroke-width="0.8"/>
<rect x="742" y="593.2" width="12" height="4" fill="#213434" />
<rect x="742" y="615.2" width="12" height="4" fill="#213434" />
<rect x="754" y="595.2" width="7" height="22" rx="2" fill="#213434"/>
<path d="M827,475.0 L838,475.0 L838,495.0 L827,495.0 Q823,490.0 823,485.0 Q823,480.0 827,475.0 Z" fill="#2F4A4A" stroke="#1a2626" stroke-width="0.8"/>
<rect x="826" y="472.0" width="12" height="4" fill="#213434" />
<rect x="826" y="494.0" width="12" height="4" fill="#213434" />
<rect x="838" y="474.0" width="7" height="22" rx="2" fill="#213434"/>
<path d="M856,475.0 L867,475.0 L867,495.0 L856,495.0 Q852,490.0 852,485.0 Q852,480.0 856,475.0 Z" fill="#2F4A4A" stroke="#1a2626" stroke-width="0.8"/>
<rect x="855" y="472.0" width="12" height="4" fill="#213434" />
<rect x="855" y="494.0" width="12" height="4" fill="#213434" />
<rect x="867" y="474.0" width="7" height="22" rx="2" fill="#213434"/>
<path d="M827,505.3 L838,505.3 L838,525.3 L827,525.3 Q823,520.3 823,515.3 Q823,510.3 827,505.3 Z" fill="#2F4A4A" stroke="#1a2626" stroke-width="0.8"/>
<rect x="826" y="502.3" width="12" height="4" fill="#213434" />
<rect x="826" y="524.3" width="12" height="4" fill="#213434" />
<rect x="838" y="504.3" width="7" height="22" rx="2" fill="#213434"/>
<path d="M856,505.3 L867,505.3 L867,525.3 L856,525.3 Q852,520.3 852,515.3 Q852,510.3 856,505.3 Z" fill="#2F4A4A" stroke="#1a2626" stroke-width="0.8"/>
<rect x="855" y="502.3" width="12" height="4" fill="#213434" />
<rect x="855" y="524.3" width="12" height="4" fill="#213434" />
<rect x="867" y="504.3" width="7" height="22" rx="2" fill="#213434"/>
<path d="M827,535.6 L838,535.6 L838,555.6 L827,555.6 Q823,550.6 823,545.6 Q823,540.6 827,535.6 Z" fill="#2F4A4A" stroke="#1a2626" stroke-width="0.8"/>
<rect x="826" y="532.6" width="12" height="4" fill="#213434" />
<rect x="826" y="554.6" width="12" height="4" fill="#213434" />
<rect x="838" y="534.6" width="7" height="22" rx="2" fill="#213434"/>
<path d="M856,535.6 L867,535.6 L867,555.6 L856,555.6 Q852,550.6 852,545.6 Q852,540.6 856,535.6 Z" fill="#2F4A4A" stroke="#1a2626" stroke-width="0.8"/>
<rect x="855" y="532.6" width="12" height="4" fill="#213434" />
<rect x="855" y="554.6" width="12" height="4" fill="#213434" />
<rect x="867" y="534.6" width="7" height="22" rx="2" fill="#213434"/>
<path d="M827,565.9 L838,565.9 L838,585.9 L827,585.9 Q823,580.9 823,575.9 Q823,570.9 827,565.9 Z" fill="#2F4A4A" stroke="#1a2626" stroke-width="0.8"/>
<rect x="826" y="562.9" width="12" height="4" fill="#213434" />
<rect x="826" y="584.9" width="12" height="4" fill="#213434" />
<rect x="838" y="564.9" width="7" height="22" rx="2" fill="#213434"/>
<path d="M856,565.9 L867,565.9 L867,585.9 L856,585.9 Q852,580.9 852,575.9 Q852,570.9 856,565.9 Z" fill="#2F4A4A" stroke="#1a2626" stroke-width="0.8"/>
<rect x="855" y="562.9" width="12" height="4" fill="#213434" />
<rect x="855" y="584.9" width="12" height="4" fill="#213434" />
<rect x="867" y="564.9" width="7" height="22" rx="2" fill="#213434"/>
<path d="M827,596.2 L838,596.2 L838,616.2 L827,616.2 Q823,611.2 823,606.2 Q823,601.2 827,596.2 Z" fill="#2F4A4A" stroke="#1a2626" stroke-width="0.8"/>
<rect x="826" y="593.2" width="12" height="4" fill="#213434" />
<rect x="826" y="615.2" width="12" height="4" fill="#213434" />
<rect x="838" y="595.2" width="7" height="22" rx="2" fill="#213434"/>
<path d="M856,596.2 L867,596.2 L867,616.2 L856,616.2 Q852,611.2 852,606.2 Q852,601.2 856,596.2 Z" fill="#2F4A4A" stroke="#1a2626" stroke-width="0.8"/>
<rect x="855" y="593.2" width="12" height="4" fill="#213434" />
<rect x="855" y="615.2" width="12" height="4" fill="#213434" />
<rect x="867" y="595.2" width="7" height="22" rx="2" fill="#213434"/>
<path d="M911,475.0 L922,475.0 L922,495.0 L911,495.0 Q907,490.0 907,485.0 Q907,480.0 911,475.0 Z" fill="#2F4A4A" stroke="#1a2626" stroke-width="0.8"/>
<rect x="910" y="472.0" width="12" height="4" fill="#213434" />
<rect x="910" y="494.0" width="12" height="4" fill="#213434" />
<rect x="922" y="474.0" width="7" height="22" rx="2" fill="#213434"/>
<path d="M940,475.0 L951,475.0 L951,495.0 L940,495.0 Q936,490.0 936,485.0 Q936,480.0 940,475.0 Z" fill="#2F4A4A" stroke="#1a2626" stroke-width="0.8"/>
<rect x="939" y="472.0" width="12" height="4" fill="#213434" />
<rect x="939" y="494.0" width="12" height="4" fill="#213434" />
<rect x="951" y="474.0" width="7" height="22" rx="2" fill="#213434"/>
<path d="M911,505.3 L922,505.3 L922,525.3 L911,525.3 Q907,520.3 907,515.3 Q907,510.3 911,505.3 Z" fill="#2F4A4A" stroke="#1a2626" stroke-width="0.8"/>
<rect x="910" y="502.3" width="12" height="4" fill="#213434" />
<rect x="910" y="524.3" width="12" height="4" fill="#213434" />
<rect x="922" y="504.3" width="7" height="22" rx="2" fill="#213434"/>
<path d="M940,505.3 L951,505.3 L951,525.3 L940,525.3 Q936,520.3 936,515.3 Q936,510.3 940,505.3 Z" fill="#2F4A4A" stroke="#1a2626" stroke-width="0.8"/>
<rect x="939" y="502.3" width="12" height="4" fill="#213434" />
<rect x="939" y="524.3" width="12" height="4" fill="#213434" />
<rect x="951" y="504.3" width="7" height="22" rx="2" fill="#213434"/>
<path d="M911,535.6 L922,535.6 L922,555.6 L911,555.6 Q907,550.6 907,545.6 Q907,540.6 911,535.6 Z" fill="#2F4A4A" stroke="#1a2626" stroke-width="0.8"/>
<rect x="910" y="532.6" width="12" height="4" fill="#213434" />
<rect x="910" y="554.6" width="12" height="4" fill="#213434" />
<rect x="922" y="534.6" width="7" height="22" rx="2" fill="#213434"/>
<path d="M940,535.6 L951,535.6 L951,555.6 L940,555.6 Q936,550.6 936,545.6 Q936,540.6 940,535.6 Z" fill="#2F4A4A" stroke="#1a2626" stroke-width="0.8"/>
<rect x="939" y="532.6" width="12" height="4" fill="#213434" />
<rect x="939" y="554.6" width="12" height="4" fill="#213434" />
<rect x="951" y="534.6" width="7" height="22" rx="2" fill="#213434"/>
<path d="M911,565.9 L922,565.9 L922,585.9 L911,585.9 Q907,580.9 907,575.9 Q907,570.9 911,565.9 Z" fill="#2F4A4A" stroke="#1a2626" stroke-width="0.8"/>
<rect x="910" y="562.9" width="12" height="4" fill="#213434" />
<rect x="910" y="584.9" width="12" height="4" fill="#213434" />
<rect x="922" y="564.9" width="7" height="22" rx="2" fill="#213434"/>
<path d="M940,565.9 L951,565.9 L951,585.9 L940,585.9 Q936,580.9 936,575.9 Q936,570.9 940,565.9 Z" fill="#2F4A4A" stroke="#1a2626" stroke-width="0.8"/>
<rect x="939" y="562.9" width="12" height="4" fill="#213434" />
<rect x="939" y="584.9" width="12" height="4" fill="#213434" />
<rect x="951" y="564.9" width="7" height="22" rx="2" fill="#213434"/>
<path d="M911,596.2 L922,596.2 L922,616.2 L911,616.2 Q907,611.2 907,606.2 Q907,601.2 911,596.2 Z" fill="#2F4A4A" stroke="#1a2626" stroke-width="0.8"/>
<rect x="910" y="593.2" width="12" height="4" fill="#213434" />
<rect x="910" y="615.2" width="12" height="4" fill="#213434" />
<rect x="922" y="595.2" width="7" height="22" rx="2" fill="#213434"/>
<path d="M940,596.2 L951,596.2 L951,616.2 L940,616.2 Q936,611.2 936,606.2 Q936,601.2 940,596.2 Z" fill="#2F4A4A" stroke="#1a2626" stroke-width="0.8"/>
<rect x="939" y="593.2" width="12" height="4" fill="#213434" />
<rect x="939" y="615.2" width="12" height="4" fill="#213434" />
<rect x="951" y="595.2" width="7" height="22" rx="2" fill="#213434"/>
<g transform="translate(1028,366) scale(1.0)"><path d="M0,53.5 L27.7,69 L27.7,110 L0,96 Z" fill="#D9E5E5"/><path d="M27.7,69 L54.7,53.5 L54.2,95.6 L27.7,110 Z" fill="#C5D3D3"/><path d="M25.5,68 L30.5,67.5 L30.5,108.5 L27.7,110 L25.5,109 Z" fill="#8E9C9C"/><path d="M0,53.5 L27.5,39 L54.7,53.5 L27.7,69 Z" fill="#E6EEEE"/><ellipse cx="27.5" cy="57" rx="14.5" ry="5.5" fill="#6B7878"/><path d="M10.3,6 L10.3,54 A17.2,6.5 0 0 0 44.7,54 L44.7,6 Z" fill="#A2DCEE"/><path d="M10.3,33 A17.2,6.5 0 0 0 44.7,33 L44.7,40 A17.2,6.5 0 0 1 10.3,40 Z" fill="#B8E8F4"/><ellipse cx="27.5" cy="6" rx="17.2" ry="6" fill="#BDEBF6"/><ellipse cx="27.5" cy="7" rx="10" ry="3.5" fill="#A6DDEE"/><path d="M30.7,84.8 L53.5,76 L53.5,90 L31,104.8 Z" fill="#3A4444"/><rect x="33.5" y="86" width="3.5" height="6" fill="#E02020"/><rect x="34" y="92" width="3" height="3" fill="#f4f4f4"/><rect x="45.5" y="81" width="3.5" height="6" fill="#2A78E0"/><rect x="46" y="87" width="3" height="3" fill="#f4f4f4"/></g>
<g transform="translate(1088.3,389.8) scale(1.0)"><path d="M12.7,7 L12.7,3 Q12.7,0 15.7,0 L22.3,0 Q25.3,0 25.3,3 L25.3,7 Z" fill="#3B4A4A"/><rect x="1.75" y="7.85" width="34.8" height="64.4" rx="7" fill="#68EE26" stroke="#3B4A4A" stroke-width="3.5"/><path d="M20.5,20.9 L10.5,42.2 L18.8,40.9 L15.7,56.2 L26.6,34.4 L18.8,35.3 Z" fill="#F4F8F4"/></g>
<g transform="translate(1192,323)" fill="#5A6B6C"><rect x="0" y="0" width="58" height="20" rx="4"/><rect x="6" y="20" width="4" height="28"/><rect x="48" y="20" width="4" height="28"/><circle cx="28.5" cy="29" r="7.5"/><path d="M16,47 Q16,35 28.5,35 Q41,35 41,47 Z"/><rect x="0" y="48" width="58" height="5"/><path d="M3,54 L55,54 L55,80 Q55,84 51,84 L7,84 Q3,84 3,80 Z"/></g>
<g transform="translate(1406,324)" fill="#5A6B6C"><rect x="0" y="0" width="58" height="20" rx="4"/><rect x="6" y="20" width="4" height="28"/><rect x="48" y="20" width="4" height="28"/><circle cx="28.5" cy="29" r="7.5"/><path d="M16,47 Q16,35 28.5,35 Q41,35 41,47 Z"/><rect x="0" y="48" width="58" height="5"/><path d="M3,54 L55,54 L55,80 Q55,84 51,84 L7,84 Q3,84 3,80 Z"/></g>
<g transform="translate(1192,432)" fill="#5A6B6C"><rect x="0" y="0" width="58" height="20" rx="4"/><rect x="6" y="20" width="4" height="28"/><rect x="48" y="20" width="4" height="28"/><circle cx="28.5" cy="29" r="7.5"/><path d="M16,47 Q16,35 28.5,35 Q41,35 41,47 Z"/><rect x="0" y="48" width="58" height="5"/><path d="M3,54 L55,54 L55,80 Q55,84 51,84 L7,84 Q3,84 3,80 Z"/></g>
<g transform="translate(1406,432)" fill="#5A6B6C"><rect x="0" y="0" width="58" height="20" rx="4"/><rect x="6" y="20" width="4" height="28"/><rect x="48" y="20" width="4" height="28"/><circle cx="28.5" cy="29" r="7.5"/><path d="M16,47 Q16,35 28.5,35 Q41,35 41,47 Z"/><rect x="0" y="48" width="58" height="5"/><path d="M3,54 L55,54 L55,80 Q55,84 51,84 L7,84 Q3,84 3,80 Z"/></g>
<g transform="translate(1294,406)" fill="#5A6B6C"><rect x="0" y="0" width="58" height="20" rx="4"/><rect x="6" y="20" width="4" height="28"/><rect x="48" y="20" width="4" height="28"/><circle cx="28.5" cy="29" r="7.5"/><path d="M16,47 Q16,35 28.5,35 Q41,35 41,47 Z"/><path d="M0,47 L58,47 L58,52 L55,53 L55,79 Q55,83 51,83 L7,83 Q3,83 3,79 L3,53 L0,52 Z"/></g>
<path d="M535,683 L601,683 L601,677 L617,689 L601,701 L601,695 L535,695 Z" fill="#E4E4E4" stroke="#E4E4E4" stroke-width="2" stroke-linejoin="round"/>
<path d="M535,757 L601,757 L601,751 L617,763 L601,775 L601,769 L535,769 Z" fill="#E4E4E4" stroke="#E4E4E4" stroke-width="2" stroke-linejoin="round"/>
<path d="M535,837 L601,837 L601,831 L617,843 L601,855 L601,849 L535,849 Z" fill="#E4E4E4" stroke="#E4E4E4" stroke-width="2" stroke-linejoin="round"/>
<path d="M642,837 C660,800 675,779 698,778.6 C730,778 750,808 774,807.8 C800,807 820,774.4 849,774.4 C880,774 905,802.6 930,802.6 C955,802.6 975,782.5 996.6,782.5 C1020,782.5 1035,804.5 1053.4,804.5 C1080,804.5 1105,782.5 1136,782.5 C1170,782.5 1195,804.5 1230,804.5 C1270,804.5 1300,781.5 1334,781.5 C1360,781.5 1390,796 1412,804 L1412,837 Z" fill="#CDCDCD"/>
<rect x="1412.5" y="769.5" width="309" height="66" fill="#fff" stroke="#000" stroke-width="9"/>
<rect x="1510" y="770" width="9" height="66" fill="#000" />
<rect x="1609" y="770" width="9" height="66" fill="#000" />
<g transform="translate(1616.1,766.8) scale(1.0)"><circle cx="0" cy="0" r="36" fill="#070B0E"/><rect x="-1.3" y="-20.7" width="3.4" height="42.8" rx="0.8" fill="#fff"/><circle cx="-13.7" cy="-13.4" r="4.6" fill="#fff"/><circle cx="13.3" cy="-13.4" r="4.6" fill="#fff"/><path d="M-20.4,-7.4 L-22.7,-2.2 L-23,5.6 L-21.2,7.2 L-20.9,10.1 L-17.5,10.3 L-15.4,21.8 L-12,22.1 L-9.9,10.1 L-6.8,9.8 L-6.3,7.2 L-4.2,5.6 L-4.2,-0.1 L-6.8,-6.9 L-8.9,-7.9 Z" fill="#fff" stroke="#fff" stroke-width="0.8" stroke-linejoin="round"/><path d="M7.3,-7.9 L5.2,-6.9 L4.7,6.7 L7.8,7.7 L9.5,14 L11,22.1 L15.4,22.1 L16.5,14 L17.5,7.2 L21.4,6.7 L21.7,-6.4 L19.3,-7.9 Z" fill="#fff" stroke="#fff" stroke-width="0.8" stroke-linejoin="round"/></g>
<path d="M1725,728 L1775,728 L1829,783 L1781,833 L1725,833 Z" fill="#978A7D"/>
<rect x="1725" y="746.0" width="110" height="4" fill="#4B4038" clip-path="url(#stairclip)"/>
<rect x="1725" y="767.0" width="110" height="4" fill="#4B4038" clip-path="url(#stairclip)"/>
<rect x="1725" y="787.5" width="110" height="7" fill="#4B4038" clip-path="url(#stairclip)"/>
<rect x="1725" y="811.5" width="110" height="5" fill="#4B4038" clip-path="url(#stairclip)"/>
<path d="M1724,745 L1752,745 L1783,783 L1756,817 L1724,817 Z" fill="#281810"/>
<path d="M1833,785 Q1875,830 1828,882" fill="none" stroke="#000" stroke-width="7" stroke-linecap="round"/>
<path d="M1824,856 L1824,884 L1853,884" fill="none" stroke="#000" stroke-width="7" stroke-linecap="round" stroke-linejoin="round"/>
<text x="1861.36" y="780" font-family='"Liberation Sans", sans-serif' font-size="37.79" font-weight="normal" fill="#fff" textLength="316.04" lengthAdjust="spacingAndGlyphs" >Escada de acesso ao</text>
<text x="1861.65" y="824.5" font-family='"Liberation Sans", sans-serif' font-size="37.79" font-weight="normal" fill="#fff" textLength="170.97" lengthAdjust="spacingAndGlyphs" >refeitório 3</text>
<path transform="translate(1518,391) rotate(0)" d="M32.0,-32.0 L250.00,-32.00 Q256.00,-32.00 261.33,-29.25 L308.00,-5.13 Q319.00,-1.00 307.86,2.84 L251.43,29.44 Q246.00,32.00 240.00,32.00 L32.0,32.0 A32.0,32.0 0 0 1 32.0,-32.0 Z" fill="#FF3A10"/>
<text x="1541.04" y="401.6" font-family='"Liberation Sans", sans-serif' font-size="37.79" font-weight="bold" fill="#fff" stroke="#fff" stroke-width="0.7" textLength="249.86" lengthAdjust="spacingAndGlyphs" >Restaurante 1</text>
<rect x="1706.5" y="445" width="59.5" height="19" rx="9.5" fill="#050505"/>
<rect x="1666.5" y="445" width="59.0" height="19" rx="9.5" fill="#6E2800"/>
<rect x="1626" y="445" width="59.5" height="19" rx="9.5" fill="#88F22E"/>
<rect x="1587" y="445" width="58" height="19" rx="9.5" fill="#EEF21E"/>
<text x="1536.25" y="597" font-family='"Liberation Sans", sans-serif' font-size="31.98" font-weight="bold" fill="#000" stroke="#000" stroke-width="0.7" textLength="297.84" lengthAdjust="spacingAndGlyphs" >ANSR ACP ANP USB</text>
<path transform="translate(2014,401.5) rotate(0)" d="M31.5,-31.5 L249.00,-31.50 Q255.00,-31.50 260.35,-28.78 L306.98,-5.08 Q318.00,-1.00 306.84,2.79 L250.44,28.97 Q245.00,31.50 239.00,31.50 L31.5,31.5 A31.5,31.5 0 0 1 31.5,-31.5 Z" fill="#C0001C"/>
<text x="2035.46" y="411" font-family='"Liberation Sans", sans-serif' font-size="37.79" font-weight="bold" fill="#fff" stroke="#fff" stroke-width="0.7" textLength="258.06" lengthAdjust="spacingAndGlyphs" >Restaurante 2</text>
<rect x="2179" y="442" width="59.5" height="19" rx="9.5" fill="#A0B8B0"/>
<rect x="2138" y="442" width="60" height="19" rx="9.5" fill="#002288"/>
<rect x="2099.5" y="442" width="57.5" height="19" rx="9.5" fill="#FF6050"/>
<text x="2063.25" y="597" font-family='"Liberation Sans", sans-serif' font-size="31.98" font-weight="bold" fill="#000" stroke="#000" stroke-width="0.7" textLength="207.69" lengthAdjust="spacingAndGlyphs" >ASR ANC AOP</text>
<rect x="1463" y="892" width="420" height="482" fill="#F7F7A8" />
<rect x="1463.0" y="891.6" width="24.3" height="5.8" fill="#4E2800"/>
<rect x="1463.0" y="891.6" width="5.8" height="24.3" fill="#4E2800"/>
<rect x="1463.0" y="1368.7" width="24.3" height="5.8" fill="#4E2800"/>
<rect x="1463.0" y="1350.2" width="5.8" height="24.3" fill="#4E2800"/>
<rect x="1858.3" y="891.6" width="24.3" height="5.8" fill="#4E2800"/>
<rect x="1876.8" y="891.6" width="5.8" height="24.3" fill="#4E2800"/>
<rect x="1858.3" y="1368.7" width="24.3" height="5.8" fill="#4E2800"/>
<rect x="1876.8" y="1350.2" width="5.8" height="24.3" fill="#4E2800"/>
<rect x="1516.2" y="891.6" width="39.5" height="5.8" rx="2.5" fill="#4E2800"/>
<rect x="1516.2" y="1368.7" width="39.5" height="5.8" rx="2.5" fill="#4E2800"/>
<rect x="1584.6" y="891.6" width="39.5" height="5.8" rx="2.5" fill="#4E2800"/>
<rect x="1584.6" y="1368.7" width="39.5" height="5.8" rx="2.5" fill="#4E2800"/>
<rect x="1653.0" y="891.6" width="39.5" height="5.8" rx="2.5" fill="#4E2800"/>
<rect x="1653.0" y="1368.7" width="39.5" height="5.8" rx="2.5" fill="#4E2800"/>
<rect x="1721.5" y="891.6" width="39.5" height="5.8" rx="2.5" fill="#4E2800"/>
<rect x="1721.5" y="1368.7" width="39.5" height="5.8" rx="2.5" fill="#4E2800"/>
<rect x="1789.9" y="891.6" width="39.5" height="5.8" rx="2.5" fill="#4E2800"/>
<rect x="1789.9" y="1368.7" width="39.5" height="5.8" rx="2.5" fill="#4E2800"/>
<rect x="1463" y="954.1" width="5.8" height="41" rx="2.5" fill="#4E2800"/>
<rect x="1876.8" y="954.1" width="5.8" height="41" rx="2.5" fill="#4E2800"/>
<rect x="1463" y="1033.3" width="5.8" height="41" rx="2.5" fill="#4E2800"/>
<rect x="1876.8" y="1033.3" width="5.8" height="41" rx="2.5" fill="#4E2800"/>
<rect x="1463" y="1112.5" width="5.8" height="41" rx="2.5" fill="#4E2800"/>
<rect x="1876.8" y="1112.5" width="5.8" height="41" rx="2.5" fill="#4E2800"/>
<rect x="1463" y="1191.8" width="5.8" height="41" rx="2.5" fill="#4E2800"/>
<rect x="1876.8" y="1191.8" width="5.8" height="41" rx="2.5" fill="#4E2800"/>
<rect x="1463" y="1271.0" width="5.8" height="41" rx="2.5" fill="#4E2800"/>
<rect x="1876.8" y="1271.0" width="5.8" height="41" rx="2.5" fill="#4E2800"/>
<text x="1682.69" y="933.4" font-family='"Liberation Sans", sans-serif' font-size="36.34" font-weight="normal" fill="#5A6B6C" textLength="185.62" lengthAdjust="spacingAndGlyphs" >Piso inferior</text>
<path transform="translate(1512,1080.3) rotate(0)" d="M31.0,-31.0 L249.70,-31.00 Q255.70,-31.00 261.07,-28.32 L307.65,-5.02 Q318.70,-1.00 307.51,2.74 L251.16,28.51 Q245.70,31.00 239.70,31.00 L31.0,31.0 A31.0,31.0 0 0 1 31.0,-31.0 Z" fill="#FFA428"/>
<text x="1534.98" y="1090" font-family='"Liberation Sans", sans-serif' font-size="36.34" font-weight="bold" fill="#fff" stroke="#fff" stroke-width="0.7" textLength="256.34" lengthAdjust="spacingAndGlyphs" >Restaurante 3</text>
<rect x="1712.8" y="1131" width="56.200000000000045" height="19" rx="9.5" fill="#FFFFFF"/>
<rect x="1672.4" y="1131" width="59.399999999999864" height="19" rx="9.5" fill="#55E8F0"/>
<rect x="1631.7" y="1131" width="59.700000000000045" height="19" rx="9.5" fill="#FF2050"/>
<rect x="1593" y="1131" width="57.700000000000045" height="19" rx="9.5" fill="#22BB11"/>
<text x="1537.77" y="1292" font-family='"Liberation Sans", sans-serif' font-size="31.4" font-weight="bold" fill="#000" stroke="#000" stroke-width="0.7" textLength="265.13" lengthAdjust="spacingAndGlyphs" >ACSR AC ASP FAP</text>
<g transform="translate(587,928) scale(1.0)"><path d="M-11,43.6 A45,45 0 1 1 11,43.6 Q4,48 1.8,55 Q0,58 -1.8,55 Q-4,48 -11,43.6 Z" fill="#5592FF"/><rect x="-7" y="-27" width="14" height="34" rx="7" fill="#EEF2F5"/><rect x="-5.5" y="13" width="11" height="10" rx="4" fill="#EEF2F5"/></g>
<rect x="545" y="1047.5" width="93" height="9" fill="#281810" />
<rect x="545" y="1135.5" width="93" height="9" fill="#281810" />
<rect x="545" y="1233.0" width="93" height="9" fill="#281810" />
<rect x="545" y="1342.0" width="93" height="9" fill="#281810" />
<path transform="translate(314.9,273) rotate(23.3)" d="M34.5,-34.5 L221.50,-34.50 Q227.50,-34.50 232.47,-31.13 L265.05,-9.05 Q275.50,-4.00 264.93,0.86 L217.55,31.26 Q212.50,34.50 206.50,34.50 L34.5,34.5 A34.5,34.5 0 0 1 34.5,-34.5 Z" fill="#55E8F2"/>
<text x="25.94" y="11" font-family='"Liberation Sans", sans-serif' font-size="43.6" font-weight="bold" fill="#fff" stroke="#fff" stroke-width="0.7" textLength="189.2" lengthAdjust="spacingAndGlyphs" transform="translate(314.9,273) rotate(23.3)">Auditório</text>
<path transform="translate(1155.5,216) rotate(24.3)" d="M32.0,-32.0 L191.50,-32.00 Q197.50,-32.00 202.83,-29.25 L240.50,-9.82 Q251.50,-5.70 241.21,-0.42 L201.36,28.48 Q196.50,32.00 190.50,32.00 L32.0,32.0 A32.0,32.0 0 0 1 32.0,-32.0 Z" fill="#0818E8"/>
<text x="25.67" y="10.5" font-family='"Liberation Sans", sans-serif' font-size="36.92" font-weight="bold" fill="#fff" stroke="#fff" stroke-width="0.7" textLength="198.87" lengthAdjust="spacingAndGlyphs" transform="translate(1155.5,216) rotate(24.3)">Exposições</text>
<path transform="translate(298.4,693.8) rotate(23.6)" d="M31.25,-31.25 L191.00,-31.25 Q197.00,-31.25 202.25,-28.34 L239.13,-7.87 Q250.00,-3.50 239.39,1.31 L197.07,28.05 Q192.00,31.25 186.00,31.25 L31.25,31.25 A31.25,31.25 0 0 1 31.25,-31.25 Z" fill="#3A00F0"/>
<text x="22.06" y="9.2" font-family='"Liberation Sans", sans-serif' font-size="36.77" font-weight="bold" fill="#fff" stroke="#fff" stroke-width="0.7" textLength="139.57" lengthAdjust="spacingAndGlyphs" transform="translate(298.4,693.8) rotate(23.6)">Entrada</text>
<path transform="translate(214.2,1120.6) rotate(23.8)" d="M31.75,-31.75 L278.00,-31.75 Q284.00,-31.75 289.22,-28.79 L325.17,-8.44 Q336.00,-4.00 325.63,1.17 L286.91,28.31 Q282.00,31.75 276.00,31.75 L31.75,31.75 A31.75,31.75 0 0 1 31.75,-31.75 Z" fill="#157A0E"/>
<text x="20.36" y="8.5" font-family='"Liberation Sans", sans-serif' font-size="37.21" font-weight="bold" fill="#fff" stroke="#fff" stroke-width="0.7" textLength="265.25" lengthAdjust="spacingAndGlyphs" transform="translate(214.2,1120.6) rotate(23.8)">Salas de apoio</text>
<rect x="840" y="977.6" width="400.6" height="432.2" rx="38" fill="#E3E3E3" stroke="#000" stroke-width="10"/>
<text x="948.12" y="1037" font-family='"Liberation Sans", sans-serif' font-size="36.34" font-weight="bold" fill="#2A1A10" stroke="#2A1A10" stroke-width="0.7" textLength="156.76" lengthAdjust="spacingAndGlyphs" >Legenda</text>
<g transform="translate(931,1089) scale(0.5777777777777777)"><path d="M-11,43.6 A45,45 0 1 1 11,43.6 Q4,48 1.8,55 Q0,58 -1.8,55 Q-4,48 -11,43.6 Z" fill="#5592FF"/><rect x="-7" y="-27" width="14" height="34" rx="7" fill="#EEF2F5"/><rect x="-5.5" y="13" width="11" height="10" rx="4" fill="#EEF2F5"/></g>
<g transform="translate(931,1172) scale(0.75)"><circle cx="0" cy="0" r="36" fill="#070B0E"/><rect x="-1.3" y="-20.7" width="3.4" height="42.8" rx="0.8" fill="#fff"/><circle cx="-13.7" cy="-13.4" r="4.6" fill="#fff"/><circle cx="13.3" cy="-13.4" r="4.6" fill="#fff"/><path d="M-20.4,-7.4 L-22.7,-2.2 L-23,5.6 L-21.2,7.2 L-20.9,10.1 L-17.5,10.3 L-15.4,21.8 L-12,22.1 L-9.9,10.1 L-6.8,9.8 L-6.3,7.2 L-4.2,5.6 L-4.2,-0.1 L-6.8,-6.9 L-8.9,-7.9 Z" fill="#fff" stroke="#fff" stroke-width="0.8" stroke-linejoin="round"/><path d="M7.3,-7.9 L5.2,-6.9 L4.7,6.7 L7.8,7.7 L9.5,14 L11,22.1 L15.4,22.1 L16.5,14 L17.5,7.2 L21.4,6.7 L21.7,-6.4 L19.3,-7.9 Z" fill="#fff" stroke="#fff" stroke-width="0.8" stroke-linejoin="round"/></g>
<g transform="translate(917,1216.5) scale(0.78)"><path d="M12.7,7 L12.7,3 Q12.7,0 15.7,0 L22.3,0 Q25.3,0 25.3,3 L25.3,7 Z" fill="#3B4A4A"/><rect x="1.75" y="7.85" width="34.8" height="64.4" rx="7" fill="#68EE26" stroke="#3B4A4A" stroke-width="3.5"/><path d="M20.5,20.9 L10.5,42.2 L18.8,40.9 L15.7,56.2 L26.6,34.4 L18.8,35.3 Z" fill="#F4F8F4"/></g>
<g transform="translate(910.7,1290) scale(0.78)"><path d="M0,53.5 L27.7,69 L27.7,110 L0,96 Z" fill="#D9E5E5"/><path d="M27.7,69 L54.7,53.5 L54.2,95.6 L27.7,110 Z" fill="#C5D3D3"/><path d="M25.5,68 L30.5,67.5 L30.5,108.5 L27.7,110 L25.5,109 Z" fill="#8E9C9C"/><path d="M0,53.5 L27.5,39 L54.7,53.5 L27.7,69 Z" fill="#E6EEEE"/><ellipse cx="27.5" cy="57" rx="14.5" ry="5.5" fill="#6B7878"/><path d="M10.3,6 L10.3,54 A17.2,6.5 0 0 0 44.7,54 L44.7,6 Z" fill="#A2DCEE"/><path d="M10.3,33 A17.2,6.5 0 0 0 44.7,33 L44.7,40 A17.2,6.5 0 0 1 10.3,40 Z" fill="#B8E8F4"/><ellipse cx="27.5" cy="6" rx="17.2" ry="6" fill="#BDEBF6"/><ellipse cx="27.5" cy="7" rx="10" ry="3.5" fill="#A6DDEE"/><path d="M30.7,84.8 L53.5,76 L53.5,90 L31,104.8 Z" fill="#3A4444"/><rect x="33.5" y="86" width="3.5" height="6" fill="#E02020"/><rect x="34" y="92" width="3" height="3" fill="#f4f4f4"/><rect x="45.5" y="81" width="3.5" height="6" fill="#2A78E0"/><rect x="46" y="87" width="3" height="3" fill="#f4f4f4"/></g>
<text x="979.26" y="1104.8" font-family='"Liberation Sans", sans-serif' font-size="29.8" font-weight="normal" fill="#000" textLength="125.82" lengthAdjust="spacingAndGlyphs" >Secretária</text>
<text x="978.23" y="1176.6" font-family='"Liberation Sans", sans-serif' font-size="29.8" font-weight="normal" fill="#000" textLength="127.71" lengthAdjust="spacingAndGlyphs" >Banheiros</text>
<text x="979.1" y="1249" font-family='"Liberation Sans", sans-serif' font-size="29.8" font-weight="normal" fill="#000" textLength="170.86" lengthAdjust="spacingAndGlyphs" >Carregadores</text>
<text x="980.36" y="1321" font-family='"Liberation Sans", sans-serif' font-size="29.8" font-weight="normal" fill="#000" textLength="169.58" lengthAdjust="spacingAndGlyphs" >Água Mineral</text>
<rect x="1971" y="946.6" width="419.8" height="562.2" rx="30" fill="#CCCCCC" stroke="#0412EC" stroke-width="6"/>
<path transform="translate(2008,943.2) rotate(0)" d="M31.8,-31.8 L265.00,-31.80 Q271.00,-31.80 276.34,-29.06 L322.99,-5.11 Q334.00,-1.00 322.85,2.82 L266.43,29.25 Q261.00,31.80 255.00,31.80 L31.8,31.8 A31.8,31.8 0 0 1 31.8,-31.8 Z" fill="#0412EC"/>
<text x="2056.57" y="954.3" font-family='"Liberation Sans", sans-serif' font-size="36.05" font-weight="bold" fill="#fff" stroke="#fff" stroke-width="0.7" textLength="214.41" lengthAdjust="spacingAndGlyphs" >Expositores</text>
<circle cx="2031.5" cy="1010.4" r="4.6" fill="#000"/>
<text x="2074.74" y="1019.4" font-family='"Liberation Sans", sans-serif' font-size="32.99" font-weight="bold" fill="#000" stroke="#000" stroke-width="0.7" textLength="89.04" lengthAdjust="spacingAndGlyphs" >Catre,</text>
<circle cx="2031.5" cy="1052.03" r="4.6" fill="#000"/>
<text x="2074.14" y="1061.03" font-family='"Liberation Sans", sans-serif' font-size="32.99" font-weight="bold" fill="#000" stroke="#000" stroke-width="0.7" textLength="95.23" lengthAdjust="spacingAndGlyphs" >IAESC,</text>
<circle cx="2031.5" cy="1093.66" r="4.6" fill="#000"/>
<text x="2074.14" y="1102.66" font-family='"Liberation Sans", sans-serif' font-size="32.99" font-weight="bold" fill="#000" stroke="#000" stroke-width="0.7" textLength="76.49" lengthAdjust="spacingAndGlyphs" >IACS,</text>
<circle cx="2031.5" cy="1135.29" r="4.6" fill="#000"/>
<text x="2074.0" y="1144.29" font-family='"Liberation Sans", sans-serif' font-size="32.99" font-weight="bold" fill="#000" stroke="#000" stroke-width="0.7" textLength="64.52" lengthAdjust="spacingAndGlyphs" >FAP,</text>
<circle cx="2031.5" cy="1176.92" r="4.6" fill="#000"/>
<text x="2074.2" y="1185.92" font-family='"Liberation Sans", sans-serif' font-size="32.99" font-weight="bold" fill="#000" stroke="#000" stroke-width="0.7" textLength="109.59" lengthAdjust="spacingAndGlyphs" >UNASP,</text>
<circle cx="2031.5" cy="1218.55" r="4.6" fill="#000"/>
<text x="2075.69" y="1227.55" font-family='"Liberation Sans", sans-serif' font-size="32.99" font-weight="bold" fill="#000" stroke="#000" stroke-width="0.7" textLength="127.7" lengthAdjust="spacingAndGlyphs" >Tio Miro,</text>
<circle cx="2031.5" cy="1260.18" r="4.6" fill="#000"/>
<text x="2075.53" y="1269.18" font-family='"Liberation Sans", sans-serif' font-size="32.99" font-weight="bold" fill="#000" stroke="#000" stroke-width="0.7" textLength="142.02" lengthAdjust="spacingAndGlyphs" >Jota play,</text>
<circle cx="2031.5" cy="1301.81" r="4.6" fill="#000"/>
<text x="2074.81" y="1310.81" font-family='"Liberation Sans", sans-serif' font-size="32.99" font-weight="bold" fill="#000" stroke="#000" stroke-width="0.7" textLength="104.2" lengthAdjust="spacingAndGlyphs" >Cevisa,</text>
<circle cx="2031.5" cy="1343.44" r="4.6" fill="#000"/>
<text x="2074.84" y="1352.44" font-family='"Liberation Sans", sans-serif' font-size="32.99" font-weight="bold" fill="#000" stroke="#000" stroke-width="0.7" textLength="69.37" lengthAdjust="spacingAndGlyphs" >CPB,</text>
<circle cx="2031.5" cy="1385.07" r="4.6" fill="#000"/>
<text x="2075.07" y="1394.07" font-family='"Liberation Sans", sans-serif' font-size="32.99" font-weight="bold" fill="#000" stroke="#000" stroke-width="0.7" textLength="273.69" lengthAdjust="spacingAndGlyphs" >Sociedade Bíblica,</text>
<circle cx="2031.5" cy="1426.7" r="4.6" fill="#000"/>
<text x="2074.77" y="1435.7" font-family='"Liberation Sans", sans-serif' font-size="32.99" font-weight="bold" fill="#000" stroke="#000" stroke-width="0.7" textLength="266.14" lengthAdjust="spacingAndGlyphs" >Clínica Adventista</text>
<text x="2076.72" y="1478" font-family='"Liberation Sans", sans-serif' font-size="30.09" font-weight="normal" fill="#000" textLength="265.18" lengthAdjust="spacingAndGlyphs" >(Unimed,Uniodonto)</text>
<circle cx="90.5" cy="67" r="57.8" fill="none" stroke="#fff" stroke-width="5"/>
<circle cx="90.5" cy="67" r="51" fill="none" stroke="#fff" stroke-width="3.2"/>
<path d="M70.1,39.5 L78.6,37 L80.9,58.6 L70.1,68.3 Z" fill="#fff"/>
<path d="M80,36.7 L88.6,33 L100,44.9 L102.3,40.1 L104,42.1 L104,47.2 L90.6,52.6 Z" fill="#fff"/>
<path d="M102,68.6 L111.9,60 L129.9,80.5 L117.9,83.4 L111.9,83.9 Z" fill="#fff"/>
<path d="M68.7,87.6 L83.5,81.9 L84.9,95.6 L70.1,103.8 Z" fill="#fff"/>
<path d="M70.1,68.3 Q88,55 102.3,40.1 L104,42.1 Q107,44 108,46 L108.6,44 Q112,47 113.1,50 L113.1,56.9 Q98,70 83.5,81.9 L71.5,92.5 L68.7,87.6 L67.2,79.1 L68.7,70.5 Z" fill="#fff"/>
<path d="M69.5,75 Q90,60 103.8,46.4" fill="none" stroke="#000090" stroke-width="0.9"/>
<path d="M68.8,85 Q92,68 108.6,48.5" fill="none" stroke="#000090" stroke-width="0.9"/>
<path d="M71.2,92.2 Q78,86 84,81" fill="none" stroke="#000090" stroke-width="0.9"/>
<text x="183.02" y="94" font-family='"Liberation Sans", sans-serif' font-size="49.42" font-weight="bold" fill="#fff" stroke="#fff" stroke-width="0.7" textLength="330.03" lengthAdjust="spacingAndGlyphs" >MAPA EVENTO</text>
</svg>
</body></html>
